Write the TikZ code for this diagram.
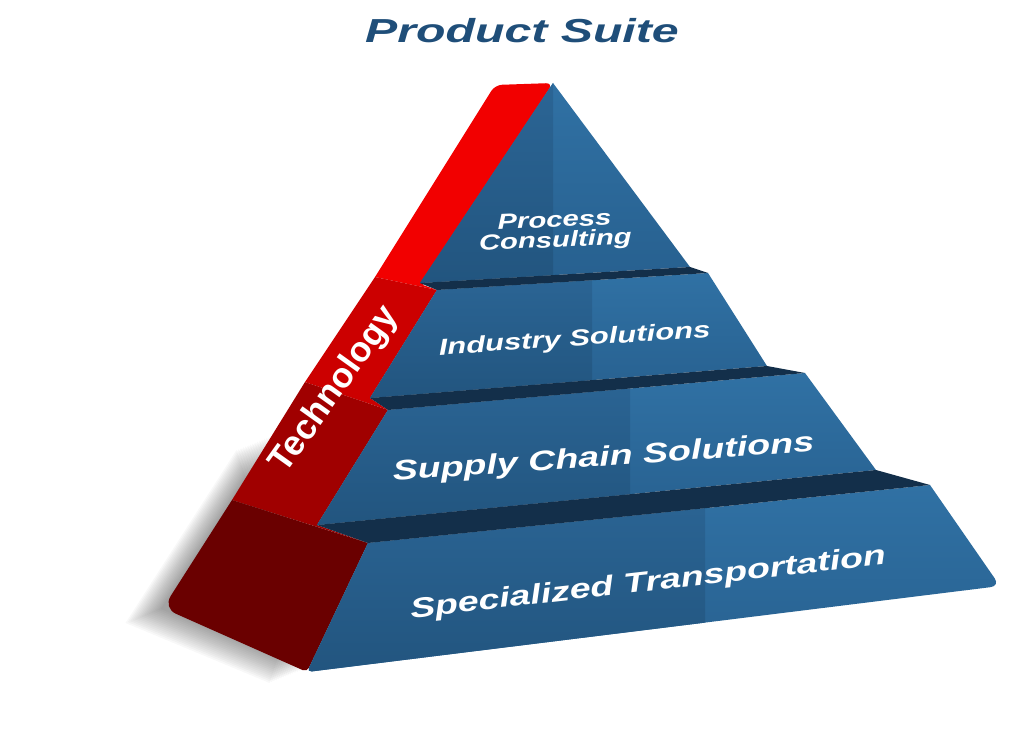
\documentclass[tikz,border=0pt]{standalone}
\usepackage{fontspec}
\newfontfamily\pyrfont[FakeStretch=1.35]{Liberation Sans}
\newfontfamily\titlefont[FakeStretch=1.45]{Liberation Sans}
\newfontfamily\sidefont{Liberation Sans}
\usetikzlibrary{calc}

\definecolor{suiteblue}{HTML}{1F4E79}
\definecolor{facetop}{HTML}{3071A4}
\definecolor{facelow}{HTML}{27608F}
\definecolor{shadetop}{HTML}{2B6595}
\definecolor{shadelow}{HTML}{22557F}
\definecolor{stepband}{HTML}{132F4A}
\definecolor{redA}{HTML}{F20000}
\definecolor{redB}{HTML}{CC0000}
\definecolor{redC}{HTML}{A00000}
\definecolor{redD}{HTML}{6A0000}

% one blue face: outline, seam x, top y, bottom y
\newcommand{\tierface}[4]{%
  \begin{scope}
    \clip #1;
    \shade[top color=facetop, bottom color=facelow] (0,#3) rectangle (1026,#4);
    \shade[top color=shadetop, bottom color=shadelow] (0,#3) rectangle (#2,#4);
  \end{scope}}

\tikzset{
  tierlabel/.style={text=white, font=\pyrfont\bfseries\itshape, anchor=base, inner sep=0pt},
}

\begin{document}
\begin{tikzpicture}[x=0.03cm, y=-0.03cm]
    \useasboundingbox (0,0) rectangle (1026,735);

    % soft shadow
    \foreach \d in {2,4,...,32} {
      \fill[black, opacity=0.028, xshift=-\d, yshift=-0.4*\d]
        (274,435) -- (163,608) -- (307,668) -- (330,600) -- cycle;
    }

    % red side
    \fill[redA] (495,85) [rounded corners=6] -- (553,83) [sharp corners] -- (423,285)
      -- (437,290) -- (375,277) [rounded corners=6] -- cycle;
    \fill[redB] (375,277) -- (437,290) -- (370,398) -- (388,410) -- (305,382) -- cycle;
    \fill[redC] (305,382) -- (388,410) -- (317,525) -- (368,543) -- (232,500) -- cycle;
    \fill[redD] (232,500) -- (368,543) [rounded corners=4] -- (307,672)
      [rounded corners=12] -- (163,608) [sharp corners] -- cycle;

    % blue faces
    \tierface{(553,83) -- (690,267) -- (420,283) -- cycle}{553}{83}{283}
    \tierface{(437,290) -- (708,273) -- (767,366) -- (370,398) -- cycle}{592}{273}{398}
    \tierface{(388,410) -- (805,373) -- (876,470) -- (317,525) -- cycle}{630}{373}{525}
    \tierface{(368,543) -- (930,485) [rounded corners=8] -- (1000,586)
      [rounded corners=4] -- (307,672) [sharp corners] -- cycle}{705}{485}{672}

    % step tops
    \fill[stepband] (420,283) -- (690,267) -- (708,273) -- (437,290) -- cycle;
    \fill[stepband] (370,398) -- (767,366) -- (805,373) -- (388,410) -- cycle;
    \fill[stepband] (317,525) -- (876,470) -- (930,485) -- (368,543) -- cycle;

    % labels
    \node[text=suiteblue, font=\titlefont\bfseries\itshape\fontsize{28.4}{30}\selectfont,
      anchor=base, inner sep=0pt] (title) at (522,43) {Product Suite};
    \node[tierlabel, anchor=center, align=center, rotate=2.6,
      font=\pyrfont\bfseries\itshape\fontsize{18.5}{17}\selectfont] (process) at (555,232)
      {Process\\Consulting};
    \node[tierlabel, rotate=3.8, font=\pyrfont\bfseries\itshape\fontsize{19.6}{22}\selectfont]
      (industry) at (575,346) {Industry Solutions};
    \node[tierlabel, rotate=4, font=\pyrfont\bfseries\itshape\fontsize{23.8}{26}\selectfont]
      (supply) at (604,466) {Supply Chain Solutions};
    \node[tierlabel, rotate=6.5, font=\pyrfont\bfseries\itshape\fontsize{23.7}{26}\selectfont]
      (transport) at (649,591) {Specialized Transportation};
    \node[text=white, font=\sidefont\bfseries\fontsize{30}{32}\selectfont, rotate=54.5,
      inner sep=0pt] (tech) at (335,390) {Technology};
\end{tikzpicture}
\end{document}
